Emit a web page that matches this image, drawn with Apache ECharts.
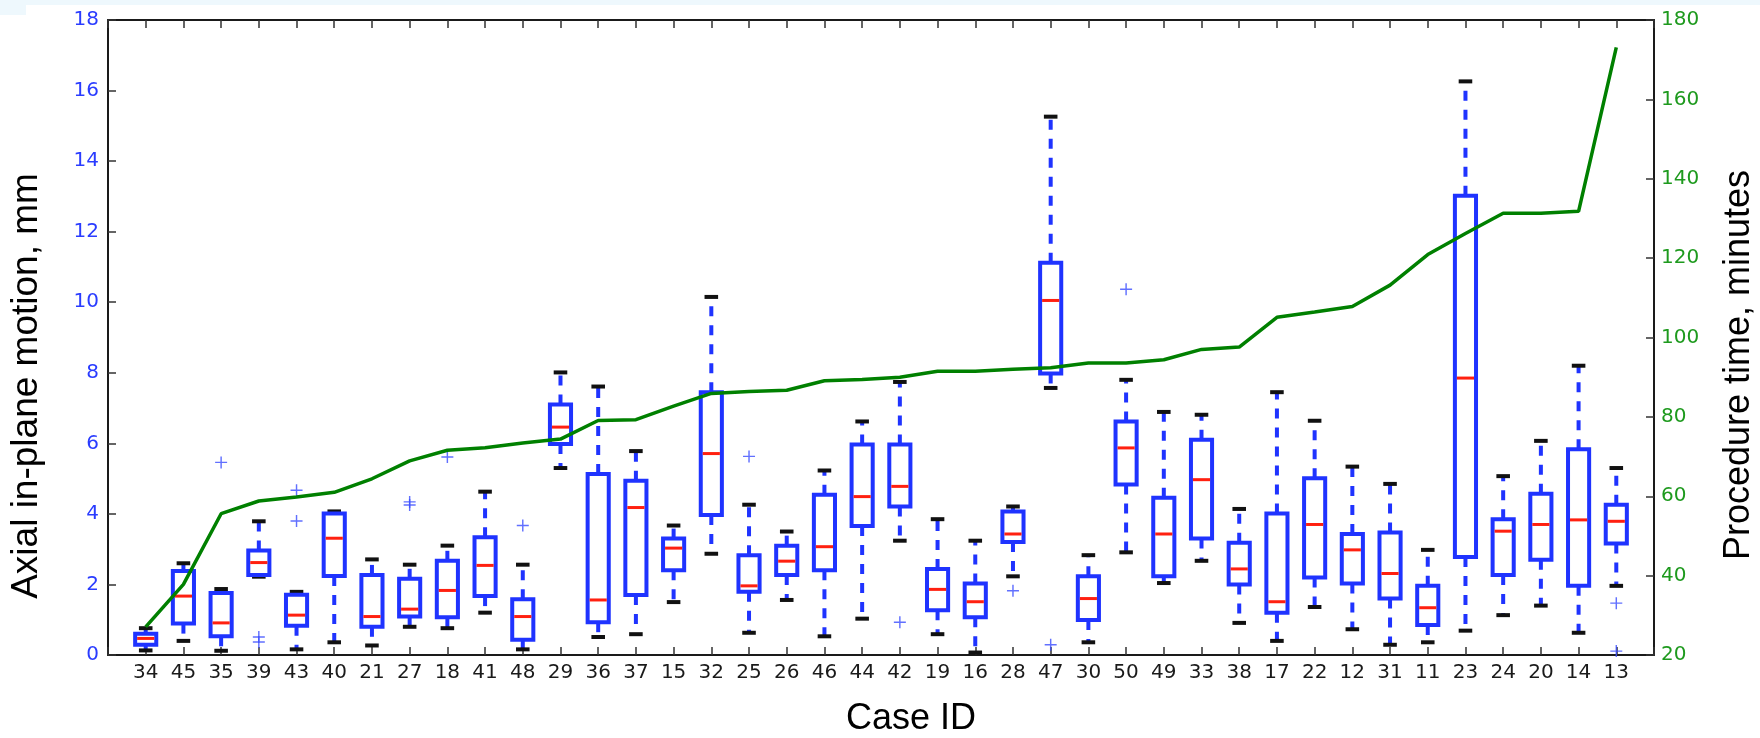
<!DOCTYPE html>
<html>
<head>
<meta charset="utf-8">
<script src="https://cdn.jsdelivr.net/npm/echarts@6/dist/echarts.min.js"></script>
<style>
html,body{margin:0;padding:0;background:#fff;}
#chart{width:1760px;height:738px;}
</style>
</head>
<body>
<div id="chart"></div>
<script>
// ---- data ----
const caseIds = [34,45,35,39,43,40,21,27,18,41,48,29,36,37,15,32,25,26,46,44,
                 42,19,16,28,47,30,50,49,33,38,17,22,12,31,11,23,24,20,14,13];
const whiskerLow = [0.13,0.40,0.12,2.22,0.16,0.36,0.27,0.80,0.76,1.20,
                    0.16,5.30,0.51,0.59,1.50,2.87,0.63,1.56,0.53,1.03,
                    3.24,0.59,0.07,2.23,7.57,0.36,2.91,2.04,2.67,0.91,
                    0.40,1.36,0.73,0.29,0.36,0.69,1.13,1.40,0.63,1.96];
const quart1 = [0.29,0.89,0.53,2.27,0.83,2.24,0.80,1.09,1.07,1.67,
                0.43,5.98,0.93,1.70,2.40,3.97,1.79,2.27,2.40,3.66,
                4.21,1.27,1.07,3.20,7.98,0.99,4.83,2.23,3.30,2.00,
                1.20,2.20,2.03,1.60,0.85,2.78,2.27,2.70,1.96,3.16];
const medians = [0.47,1.67,0.91,2.62,1.13,3.31,1.09,1.30,1.83,2.54,
                 1.09,6.46,1.56,4.18,3.03,5.71,1.96,2.66,3.07,4.49,
                 4.78,1.86,1.51,3.43,10.05,1.60,5.87,3.43,4.97,2.44,
                 1.51,3.70,2.98,2.31,1.34,7.85,3.51,3.70,3.83,3.79];
const quart3 = [0.60,2.38,1.76,2.96,1.71,4.01,2.27,2.16,2.67,3.34,
                1.58,7.10,5.13,4.94,3.30,7.45,2.83,3.10,4.54,5.97,
                5.97,2.44,2.03,4.07,11.12,2.23,6.62,4.46,6.10,3.18,
                4.01,5.01,3.43,3.47,1.96,13.02,3.85,4.57,5.83,4.26];
const whiskerHigh = [0.76,2.60,1.87,3.79,1.79,4.07,2.71,2.56,3.10,4.63,
                     2.56,8.01,7.61,5.78,3.67,10.15,4.26,3.50,5.23,6.62,
                     7.74,3.85,3.24,4.21,15.26,2.83,7.80,6.89,6.81,4.14,
                     7.45,6.64,5.34,4.85,2.98,16.26,5.07,6.07,8.20,5.30];
const outliers = [[35,5.46],[39,0.51],[39,0.37],[43,4.67],[43,3.80],[27,4.34],[27,4.25],
                  [18,5.61],[48,3.67],[25,5.63],[42,0.93],[28,1.82],[47,0.29],[50,10.37],
                  [13,1.47],[13,0.11]];
const procTime = [27.1,37.8,55.6,58.8,59.8,61.0,64.4,68.9,71.6,72.2,
                  73.4,74.4,79.1,79.3,82.7,85.9,86.4,86.7,89.1,89.4,
                  90.0,91.5,91.5,92.0,92.4,93.6,93.6,94.4,97.0,97.6,
                  105.1,106.4,107.8,113.2,120.9,126.2,131.3,131.3,131.8,173.1];
const leftTicks = {min:0, max:18, interval:2};
const rightTicks = {min:20, max:180, interval:20};
const xTitle = 'Case ID';
const yLeftTitle = 'Axial in-plane motion, mm';
const yRightTitle = 'Procedure time, minutes';

// ---- build ----
const categories = [''].concat(caseIds.map(String)).concat(['']);
const boxData = caseIds.map((c, i) => [i + 1, whiskerLow[i], quart1[i], medians[i], quart3[i], whiskerHigh[i]]);
const outlierData = outliers.map(o => [caseIds.indexOf(o[0]) + 1, o[1]]);
const lineData = procTime.map((v, i) => [i + 1, v]);

const BLUE = '#1f33ff';
const chart = echarts.init(document.getElementById('chart'), null, {renderer: 'canvas'});
const tickFont = {fontFamily: 'DejaVu Sans', fontSize: 20};

function renderBox(params, api) {
  const x = api.value(0);
  const lo = api.coord([x, api.value(1)]);
  const q1 = api.coord([x, api.value(2)]);
  const md = api.coord([x, api.value(3)]);
  const q3 = api.coord([x, api.value(4)]);
  const hi = api.coord([x, api.value(5)]);
  const band = api.size([1, 0])[0];
  const half = band * 0.28;
  const capHalf = band * 0.18;
  const cx = lo[0];
  const whiskerStyle = {stroke: BLUE, lineWidth: 4, lineDash: [10, 9], fill: null};
  return {
    type: 'group',
    children: [
      {type: 'line', shape: {x1: cx, y1: q3[1], x2: cx, y2: hi[1]}, style: whiskerStyle},
      {type: 'line', shape: {x1: cx, y1: q1[1], x2: cx, y2: lo[1]}, style: whiskerStyle},
      {type: 'line', shape: {x1: cx - capHalf, y1: hi[1], x2: cx + capHalf, y2: hi[1]}, style: {stroke: '#111', lineWidth: 4}},
      {type: 'line', shape: {x1: cx - capHalf, y1: lo[1], x2: cx + capHalf, y2: lo[1]}, style: {stroke: '#111', lineWidth: 4}},
      {type: 'rect', shape: {x: cx - half, y: q3[1], width: half * 2, height: q1[1] - q3[1]},
        style: {stroke: BLUE, lineWidth: 4, fill: '#fff'}},
      {type: 'line', shape: {x1: cx - half + 2, y1: md[1], x2: cx + half - 2, y2: md[1]}, style: {stroke: '#ff2010', lineWidth: 3}}
    ]
  };
}

const option = {
  animation: false,
  backgroundColor: '#ffffff',
  grid: {left: 108, right: 106, top: 20, bottom: 83, containLabel: false},
  xAxis: [
    {
      type: 'category', data: categories, boundaryGap: false, position: 'bottom',
      axisLine: {show: true, onZero: false, lineStyle: {color: '#1a1a1a', width: 2}},
      axisTick: {show: true, inside: true, length: 8, interval: 0, lineStyle: {color: '#333', width: 1.5}},
      axisLabel: Object.assign({interval: 0, color: '#1a1a1a', margin: 8}, tickFont),
      splitLine: {show: false}
    },
    {
      type: 'category', data: categories, boundaryGap: false, position: 'top',
      axisLine: {show: true, onZero: false, lineStyle: {color: '#1a1a1a', width: 2}},
      axisTick: {show: true, inside: true, length: 8, interval: 0, lineStyle: {color: '#333', width: 1.5}},
      axisLabel: {show: false},
      splitLine: {show: false}
    }
  ],
  yAxis: [
    {
      type: 'value', min: leftTicks.min, max: leftTicks.max, interval: leftTicks.interval, position: 'left',
      axisLine: {show: true, lineStyle: {color: '#1a1a1a', width: 2}},
      axisTick: {show: true, inside: true, length: 8, lineStyle: {color: '#333', width: 1.5}},
      axisLabel: Object.assign({color: '#2a3cff', margin: 9}, tickFont),
      splitLine: {show: false}
    },
    {
      type: 'value', min: rightTicks.min, max: rightTicks.max, interval: rightTicks.interval, position: 'right',
      axisLine: {show: true, lineStyle: {color: '#1a1a1a', width: 2}},
      axisTick: {show: true, inside: true, length: 8, lineStyle: {color: '#333', width: 1.5}},
      axisLabel: Object.assign({color: '#1e9a1e', margin: 7}, tickFont),
      splitLine: {show: false}
    }
  ],
  graphic: [
    {type: 'rect', z: -1, shape: {x: 0, y: 0, width: 1760, height: 5}, style: {fill: '#eef8fd'}},
    {type: 'rect', z: -1, shape: {x: 0, y: 0, width: 26, height: 15}, style: {fill: '#eef8fd'}},
    {type: 'text', x: 27, y: 386, rotation: Math.PI / 2,
      style: {text: yLeftTitle, font: '37px "Liberation Sans"', fill: '#000',
        align: 'center', verticalAlign: 'middle', textAlign: 'center', textVerticalAlign: 'middle'}},
    {type: 'text', x: 1739, y: 365, rotation: Math.PI / 2,
      style: {text: yRightTitle, font: '36px "Liberation Sans"', fill: '#000',
        align: 'center', verticalAlign: 'middle', textAlign: 'center', textVerticalAlign: 'middle'}},
    {type: 'text', x: 911, y: 719,
      style: {text: xTitle, font: '36px "Liberation Sans"', fill: '#000',
        align: 'center', verticalAlign: 'middle', textAlign: 'center', textVerticalAlign: 'middle'}}
  ],
  series: [
    {
      type: 'custom', name: 'motion', xAxisIndex: 0, yAxisIndex: 0,
      renderItem: renderBox, data: boxData, encode: {x: 0, y: [1, 2, 3, 4, 5]}, z: 2, clip: false
    },
    {
      type: 'scatter', name: 'outliers', xAxisIndex: 0, yAxisIndex: 0, data: outlierData,
      symbol: 'path://M4.4,0H5.6V4.4H10V5.6H5.6V10H4.4V5.6H0V4.4H4.4Z', symbolSize: 12,
      itemStyle: {color: '#3a4cff'}, z: 3
    },
    {
      type: 'line', name: 'procedure time', xAxisIndex: 0, yAxisIndex: 1, data: lineData,
      symbol: 'none', lineStyle: {color: '#008000', width: 3.5}, z: 4
    }
  ]
};
chart.setOption(option);
</script>
</body>
</html>
